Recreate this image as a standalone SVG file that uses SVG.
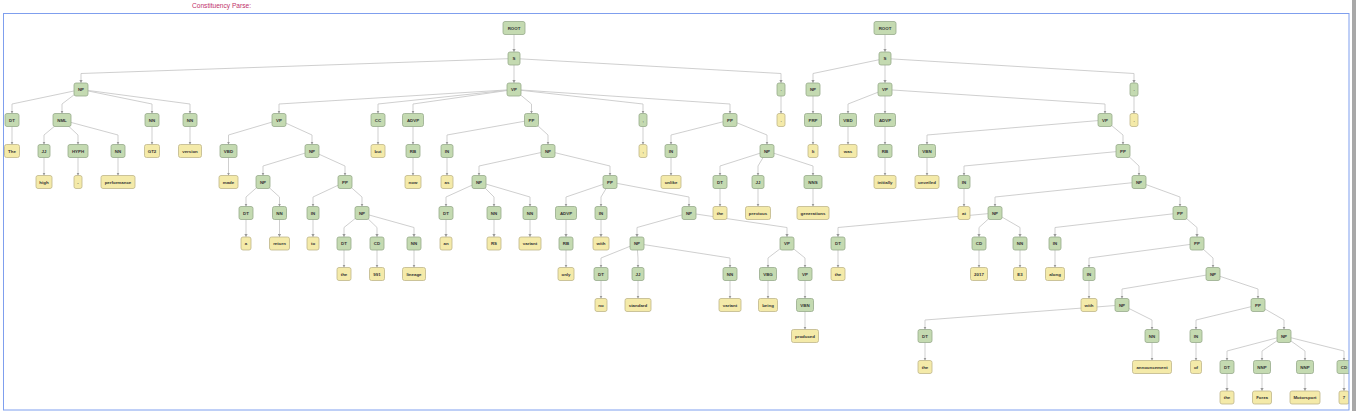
<svg xmlns="http://www.w3.org/2000/svg" width="1356" height="411" viewBox="0 0 1356 411">
<style>
.g rect{fill:#c4dab1;stroke:#97ab8b;stroke-width:0.8}
.y rect{fill:#f4eaa9;stroke:#bfb68a;stroke-width:0.8}
text{font-family:"Liberation Sans",Arial,sans-serif;font-weight:bold;font-size:4.4px;fill:#333;text-anchor:middle;dominant-baseline:central}
#edges path{fill:none;stroke:#c9c9c9;stroke-width:0.9;marker-end:url(#arr)}
.title{font-size:6.6px;font-weight:normal;fill:#c0306a;text-anchor:start;dominant-baseline:auto}
</style>
<defs>
<marker id="arr" markerWidth="4" markerHeight="4" refX="3" refY="2" orient="auto" markerUnits="userSpaceOnUse"><path d="M0,0.4L3,2L0,3.6z" fill="#999"/></marker>
<clipPath id="frameclip"><rect x="3.5" y="13.5" width="1345.5" height="396.5"/></clipPath>
</defs>
<rect width="1356" height="411" fill="#fff"/>
<text class="title" x="192" y="8">Constituency Parse:</text>
<g clip-path="url(#frameclip)">
<g id="edges">
<path d="M514,28V52"/>
<path d="M514,58.5L81,73.5V83"/>
<path d="M514,58.5V83"/>
<path d="M514,58.5L781,73.5V83"/>
<path d="M81,89.5L12,104V113.5"/>
<path d="M81,89.5L62,104V113.5"/>
<path d="M81,89.5L152,104V113.5"/>
<path d="M81,89.5L190,104V113.5"/>
<path d="M12,120V144.5"/>
<path d="M62,120L44,135V144.5"/>
<path d="M62,120L78,135V144.5"/>
<path d="M62,120L118,135V144.5"/>
<path d="M44,151V175.5"/>
<path d="M78,151V175.5"/>
<path d="M118,151V175.5"/>
<path d="M152,120V144.5"/>
<path d="M190,120V144.5"/>
<path d="M514,89.5L279,104V113.5"/>
<path d="M514,89.5L378,104V113.5"/>
<path d="M514,89.5L413,104V113.5"/>
<path d="M514,89.5L531.5,104V113.5"/>
<path d="M514,89.5L643,104V113.5"/>
<path d="M514,89.5L730,104V113.5"/>
<path d="M279,120L228.5,135V144.5"/>
<path d="M279,120L312,135V144.5"/>
<path d="M228.5,151V175.5"/>
<path d="M312,151L263,166V175.5"/>
<path d="M312,151L345,166V175.5"/>
<path d="M263,182L246,197V206.5"/>
<path d="M263,182L279.5,197V206.5"/>
<path d="M246,213V237"/>
<path d="M279.5,213V237"/>
<path d="M345,182L313,197V206.5"/>
<path d="M345,182L362,197V206.5"/>
<path d="M313,213V237"/>
<path d="M362,213L344,227.5V237"/>
<path d="M362,213L377,227.5V237"/>
<path d="M362,213L414,227.5V237"/>
<path d="M344,243.5V267.5"/>
<path d="M377,243.5V267.5"/>
<path d="M414,243.5V267.5"/>
<path d="M378,120V144.5"/>
<path d="M413,120V144.5"/>
<path d="M413,151V175.5"/>
<path d="M531.5,120L447,135V144.5"/>
<path d="M531.5,120L548,135V144.5"/>
<path d="M447,151V175.5"/>
<path d="M548,151L479,166V175.5"/>
<path d="M548,151L610,166V175.5"/>
<path d="M479,182L446,197V206.5"/>
<path d="M479,182L494,197V206.5"/>
<path d="M479,182L530,197V206.5"/>
<path d="M446,213V237"/>
<path d="M494,213V237"/>
<path d="M530,213V237"/>
<path d="M610,182L566,197V206.5"/>
<path d="M610,182L601,197V206.5"/>
<path d="M610,182L689,197V206.5"/>
<path d="M566,213V237"/>
<path d="M566,243.5V267.5"/>
<path d="M601,213V237"/>
<path d="M689,213L637,227.5V237"/>
<path d="M689,213L787,227.5V237"/>
<path d="M637,243.5L601,258V267.5"/>
<path d="M637,243.5L638,258V267.5"/>
<path d="M637,243.5L730,258V267.5"/>
<path d="M601,274V298.5"/>
<path d="M638,274V298.5"/>
<path d="M730,274V298.5"/>
<path d="M787,243.5L768,258V267.5"/>
<path d="M787,243.5L805,258V267.5"/>
<path d="M768,274V298.5"/>
<path d="M805,274V298.5"/>
<path d="M805,305V329.5"/>
<path d="M643,120V144.5"/>
<path d="M730,120L671,135V144.5"/>
<path d="M730,120L767,135V144.5"/>
<path d="M671,151V175.5"/>
<path d="M767,151L720,166V175.5"/>
<path d="M767,151L758,166V175.5"/>
<path d="M767,151L813,166V175.5"/>
<path d="M720,182V206.5"/>
<path d="M758,182V206.5"/>
<path d="M813,182V206.5"/>
<path d="M781,89.5V113.5"/>
<path d="M885,28V52"/>
<path d="M885,58.5L813,73.5V83"/>
<path d="M885,58.5V83"/>
<path d="M885,58.5L1134,73.5V83"/>
<path d="M813,89.5V113.5"/>
<path d="M813,120V144.5"/>
<path d="M885,89.5L848,104V113.5"/>
<path d="M885,89.5V113.5"/>
<path d="M885,89.5L1105,104V113.5"/>
<path d="M848,120V144.5"/>
<path d="M885,120V144.5"/>
<path d="M885,151V175.5"/>
<path d="M1105,120L927,135V144.5"/>
<path d="M1105,120L1123,135V144.5"/>
<path d="M927,151V175.5"/>
<path d="M1123,151L964,166V175.5"/>
<path d="M1123,151L1139,166V175.5"/>
<path d="M964,182V206.5"/>
<path d="M1139,182L995,197V206.5"/>
<path d="M1139,182L1180,197V206.5"/>
<path d="M995,213L838,227.5V237"/>
<path d="M995,213L979,227.5V237"/>
<path d="M995,213L1020,227.5V237"/>
<path d="M838,243.5V267.5"/>
<path d="M979,243.5V267.5"/>
<path d="M1020,243.5V267.5"/>
<path d="M1180,213L1055,227.5V237"/>
<path d="M1180,213L1197,227.5V237"/>
<path d="M1055,243.5V267.5"/>
<path d="M1197,243.5L1089,258V267.5"/>
<path d="M1197,243.5L1213,258V267.5"/>
<path d="M1089,274V298.5"/>
<path d="M1213,274L1122,289V298.5"/>
<path d="M1213,274L1258,289V298.5"/>
<path d="M1122,305L925,320V329.5"/>
<path d="M1122,305L1152,320V329.5"/>
<path d="M925,336V360.5"/>
<path d="M1152,336V360.5"/>
<path d="M1258,305L1196,320V329.5"/>
<path d="M1258,305L1284,320V329.5"/>
<path d="M1196,336V360.5"/>
<path d="M1284,336L1227,351V360.5"/>
<path d="M1284,336L1262,351V360.5"/>
<path d="M1284,336L1305,351V360.5"/>
<path d="M1284,336L1344,351V360.5"/>
<path d="M1227,367V391"/>
<path d="M1262,367V391"/>
<path d="M1305,367V391"/>
<path d="M1344,367V391"/>
<path d="M1134,89.5V113.5"/>
</g>
<g id="n1" class="g"><rect x="503" y="21.5" width="22" height="13" rx="2"/><text x="514" y="28">ROOT</text></g>
<g id="n2" class="g"><rect x="508" y="52" width="12" height="13" rx="2"/><text x="514" y="58.5">S</text></g>
<g id="n3" class="g"><rect x="74" y="83" width="14" height="13" rx="2"/><text x="81" y="89.5">NP</text></g>
<g id="n4" class="g"><rect x="5" y="113.5" width="14" height="13" rx="2"/><text x="12" y="120">DT</text></g>
<g id="n5" class="y"><rect x="4.5" y="144.5" width="15" height="13" rx="2"/><text x="12" y="151">The</text></g>
<g id="n6" class="g"><rect x="53" y="113.5" width="18" height="13" rx="2"/><text x="62" y="120">NML</text></g>
<g id="n7" class="g"><rect x="38" y="144.5" width="12" height="13" rx="2"/><text x="44" y="151">JJ</text></g>
<g id="n8" class="y"><rect x="36" y="175.5" width="16" height="13" rx="2"/><text x="44" y="182">high</text></g>
<g id="n9" class="g"><rect x="68" y="144.5" width="20" height="13" rx="2"/><text x="78" y="151">HYPH</text></g>
<g id="n10" class="y"><rect x="74" y="175.5" width="8" height="13" rx="2"/><text x="78" y="182">-</text></g>
<g id="n11" class="g"><rect x="111" y="144.5" width="14" height="13" rx="2"/><text x="118" y="151">NN</text></g>
<g id="n12" class="y"><rect x="101" y="175.5" width="34" height="13" rx="2"/><text x="118" y="182">performance</text></g>
<g id="n13" class="g"><rect x="145" y="113.5" width="14" height="13" rx="2"/><text x="152" y="120">NN</text></g>
<g id="n14" class="y"><rect x="144.5" y="144.5" width="15" height="13" rx="2"/><text x="152" y="151">GT2</text></g>
<g id="n15" class="g"><rect x="183" y="113.5" width="14" height="13" rx="2"/><text x="190" y="120">NN</text></g>
<g id="n16" class="y"><rect x="178.5" y="144.5" width="23" height="13" rx="2"/><text x="190" y="151">version</text></g>
<g id="n17" class="g"><rect x="507" y="83" width="14" height="13" rx="2"/><text x="514" y="89.5">VP</text></g>
<g id="n18" class="g"><rect x="272" y="113.5" width="14" height="13" rx="2"/><text x="279" y="120">VP</text></g>
<g id="n19" class="g"><rect x="220" y="144.5" width="17" height="13" rx="2"/><text x="228.5" y="151">VBD</text></g>
<g id="n20" class="y"><rect x="219" y="175.5" width="19" height="13" rx="2"/><text x="228.5" y="182">made</text></g>
<g id="n21" class="g"><rect x="305" y="144.5" width="14" height="13" rx="2"/><text x="312" y="151">NP</text></g>
<g id="n22" class="g"><rect x="256" y="175.5" width="14" height="13" rx="2"/><text x="263" y="182">NP</text></g>
<g id="n23" class="g"><rect x="239" y="206.5" width="14" height="13" rx="2"/><text x="246" y="213">DT</text></g>
<g id="n24" class="y"><rect x="241" y="237" width="10" height="13" rx="2"/><text x="246" y="243.5">a</text></g>
<g id="n25" class="g"><rect x="272.5" y="206.5" width="14" height="13" rx="2"/><text x="279.5" y="213">NN</text></g>
<g id="n26" class="y"><rect x="269.5" y="237" width="20" height="13" rx="2"/><text x="279.5" y="243.5">return</text></g>
<g id="n27" class="g"><rect x="338" y="175.5" width="14" height="13" rx="2"/><text x="345" y="182">PP</text></g>
<g id="n28" class="g"><rect x="307" y="206.5" width="12" height="13" rx="2"/><text x="313" y="213">IN</text></g>
<g id="n29" class="y"><rect x="307" y="237" width="12" height="13" rx="2"/><text x="313" y="243.5">to</text></g>
<g id="n30" class="g"><rect x="355" y="206.5" width="14" height="13" rx="2"/><text x="362" y="213">NP</text></g>
<g id="n31" class="g"><rect x="337" y="237" width="14" height="13" rx="2"/><text x="344" y="243.5">DT</text></g>
<g id="n32" class="y"><rect x="337" y="267.5" width="14" height="13" rx="2"/><text x="344" y="274">the</text></g>
<g id="n33" class="g"><rect x="370" y="237" width="14" height="13" rx="2"/><text x="377" y="243.5">CD</text></g>
<g id="n34" class="y"><rect x="369.5" y="267.5" width="15" height="13" rx="2"/><text x="377" y="274">991</text></g>
<g id="n35" class="g"><rect x="407" y="237" width="14" height="13" rx="2"/><text x="414" y="243.5">NN</text></g>
<g id="n36" class="y"><rect x="402.5" y="267.5" width="23" height="13" rx="2"/><text x="414" y="274">lineage</text></g>
<g id="n37" class="g"><rect x="371" y="113.5" width="14" height="13" rx="2"/><text x="378" y="120">CC</text></g>
<g id="n38" class="y"><rect x="371" y="144.5" width="14" height="13" rx="2"/><text x="378" y="151">but</text></g>
<g id="n39" class="g"><rect x="402.5" y="113.5" width="21" height="13" rx="2"/><text x="413" y="120">ADVP</text></g>
<g id="n40" class="g"><rect x="406" y="144.5" width="14" height="13" rx="2"/><text x="413" y="151">RB</text></g>
<g id="n41" class="y"><rect x="405" y="175.5" width="16" height="13" rx="2"/><text x="413" y="182">now</text></g>
<g id="n42" class="g"><rect x="524.5" y="113.5" width="14" height="13" rx="2"/><text x="531.5" y="120">PP</text></g>
<g id="n43" class="g"><rect x="441" y="144.5" width="12" height="13" rx="2"/><text x="447" y="151">IN</text></g>
<g id="n44" class="y"><rect x="441" y="175.5" width="12" height="13" rx="2"/><text x="447" y="182">as</text></g>
<g id="n45" class="g"><rect x="541" y="144.5" width="14" height="13" rx="2"/><text x="548" y="151">NP</text></g>
<g id="n46" class="g"><rect x="472" y="175.5" width="14" height="13" rx="2"/><text x="479" y="182">NP</text></g>
<g id="n47" class="g"><rect x="439" y="206.5" width="14" height="13" rx="2"/><text x="446" y="213">DT</text></g>
<g id="n48" class="y"><rect x="440" y="237" width="12" height="13" rx="2"/><text x="446" y="243.5">an</text></g>
<g id="n49" class="g"><rect x="487" y="206.5" width="14" height="13" rx="2"/><text x="494" y="213">NN</text></g>
<g id="n50" class="y"><rect x="487" y="237" width="14" height="13" rx="2"/><text x="494" y="243.5">RS</text></g>
<g id="n51" class="g"><rect x="523" y="206.5" width="14" height="13" rx="2"/><text x="530" y="213">NN</text></g>
<g id="n52" class="y"><rect x="519" y="237" width="22" height="13" rx="2"/><text x="530" y="243.5">variant</text></g>
<g id="n53" class="g"><rect x="603" y="175.5" width="14" height="13" rx="2"/><text x="610" y="182">PP</text></g>
<g id="n54" class="g"><rect x="555.5" y="206.5" width="21" height="13" rx="2"/><text x="566" y="213">ADVP</text></g>
<g id="n55" class="g"><rect x="559" y="237" width="14" height="13" rx="2"/><text x="566" y="243.5">RB</text></g>
<g id="n56" class="y"><rect x="558" y="267.5" width="16" height="13" rx="2"/><text x="566" y="274">only</text></g>
<g id="n57" class="g"><rect x="595" y="206.5" width="12" height="13" rx="2"/><text x="601" y="213">IN</text></g>
<g id="n58" class="y"><rect x="593" y="237" width="16" height="13" rx="2"/><text x="601" y="243.5">with</text></g>
<g id="n59" class="g"><rect x="682" y="206.5" width="14" height="13" rx="2"/><text x="689" y="213">NP</text></g>
<g id="n60" class="g"><rect x="630" y="237" width="14" height="13" rx="2"/><text x="637" y="243.5">NP</text></g>
<g id="n61" class="g"><rect x="594" y="267.5" width="14" height="13" rx="2"/><text x="601" y="274">DT</text></g>
<g id="n62" class="y"><rect x="595" y="298.5" width="12" height="13" rx="2"/><text x="601" y="305">no</text></g>
<g id="n63" class="g"><rect x="632" y="267.5" width="12" height="13" rx="2"/><text x="638" y="274">JJ</text></g>
<g id="n64" class="y"><rect x="625" y="298.5" width="26" height="13" rx="2"/><text x="638" y="305">standard</text></g>
<g id="n65" class="g"><rect x="723" y="267.5" width="14" height="13" rx="2"/><text x="730" y="274">NN</text></g>
<g id="n66" class="y"><rect x="719" y="298.5" width="22" height="13" rx="2"/><text x="730" y="305">variant</text></g>
<g id="n67" class="g"><rect x="780" y="237" width="14" height="13" rx="2"/><text x="787" y="243.5">VP</text></g>
<g id="n68" class="g"><rect x="759.5" y="267.5" width="17" height="13" rx="2"/><text x="768" y="274">VBG</text></g>
<g id="n69" class="y"><rect x="758.5" y="298.5" width="19" height="13" rx="2"/><text x="768" y="305">being</text></g>
<g id="n70" class="g"><rect x="798" y="267.5" width="14" height="13" rx="2"/><text x="805" y="274">VP</text></g>
<g id="n71" class="g"><rect x="796.5" y="298.5" width="17" height="13" rx="2"/><text x="805" y="305">VBN</text></g>
<g id="n72" class="y"><rect x="791.5" y="329.5" width="27" height="13" rx="2"/><text x="805" y="336">produced</text></g>
<g id="n73" class="g"><rect x="639" y="113.5" width="8" height="13" rx="2"/><text x="643" y="120">,</text></g>
<g id="n74" class="y"><rect x="639" y="144.5" width="8" height="13" rx="2"/><text x="643" y="151">,</text></g>
<g id="n75" class="g"><rect x="723" y="113.5" width="14" height="13" rx="2"/><text x="730" y="120">PP</text></g>
<g id="n76" class="g"><rect x="665" y="144.5" width="12" height="13" rx="2"/><text x="671" y="151">IN</text></g>
<g id="n77" class="y"><rect x="661" y="175.5" width="20" height="13" rx="2"/><text x="671" y="182">unlike</text></g>
<g id="n78" class="g"><rect x="760" y="144.5" width="14" height="13" rx="2"/><text x="767" y="151">NP</text></g>
<g id="n79" class="g"><rect x="713" y="175.5" width="14" height="13" rx="2"/><text x="720" y="182">DT</text></g>
<g id="n80" class="y"><rect x="713" y="206.5" width="14" height="13" rx="2"/><text x="720" y="213">the</text></g>
<g id="n81" class="g"><rect x="752" y="175.5" width="12" height="13" rx="2"/><text x="758" y="182">JJ</text></g>
<g id="n82" class="y"><rect x="745.5" y="206.5" width="25" height="13" rx="2"/><text x="758" y="213">previous</text></g>
<g id="n83" class="g"><rect x="804" y="175.5" width="18" height="13" rx="2"/><text x="813" y="182">NNS</text></g>
<g id="n84" class="y"><rect x="797" y="206.5" width="32" height="13" rx="2"/><text x="813" y="213">generations</text></g>
<g id="n85" class="g"><rect x="777" y="83" width="8" height="13" rx="2"/><text x="781" y="89.5">.</text></g>
<g id="n86" class="y"><rect x="777" y="113.5" width="8" height="13" rx="2"/><text x="781" y="120">.</text></g>
<g id="m1" class="g"><rect x="874" y="21.5" width="22" height="13" rx="2"/><text x="885" y="28">ROOT</text></g>
<g id="m2" class="g"><rect x="879" y="52" width="12" height="13" rx="2"/><text x="885" y="58.5">S</text></g>
<g id="m3" class="g"><rect x="806" y="83" width="14" height="13" rx="2"/><text x="813" y="89.5">NP</text></g>
<g id="m4" class="g"><rect x="804.5" y="113.5" width="17" height="13" rx="2"/><text x="813" y="120">PRP</text></g>
<g id="m5" class="y"><rect x="808" y="144.5" width="10" height="13" rx="2"/><text x="813" y="151">It</text></g>
<g id="m6" class="g"><rect x="878" y="83" width="14" height="13" rx="2"/><text x="885" y="89.5">VP</text></g>
<g id="m7" class="g"><rect x="839.5" y="113.5" width="17" height="13" rx="2"/><text x="848" y="120">VBD</text></g>
<g id="m8" class="y"><rect x="839" y="144.5" width="18" height="13" rx="2"/><text x="848" y="151">was</text></g>
<g id="m9" class="g"><rect x="874.5" y="113.5" width="21" height="13" rx="2"/><text x="885" y="120">ADVP</text></g>
<g id="m10" class="g"><rect x="878" y="144.5" width="14" height="13" rx="2"/><text x="885" y="151">RB</text></g>
<g id="m11" class="y"><rect x="874" y="175.5" width="22" height="13" rx="2"/><text x="885" y="182">initially</text></g>
<g id="m12" class="g"><rect x="1098" y="113.5" width="14" height="13" rx="2"/><text x="1105" y="120">VP</text></g>
<g id="m13" class="g"><rect x="918.5" y="144.5" width="17" height="13" rx="2"/><text x="927" y="151">VBN</text></g>
<g id="m14" class="y"><rect x="915" y="175.5" width="24" height="13" rx="2"/><text x="927" y="182">unveiled</text></g>
<g id="m15" class="g"><rect x="1116" y="144.5" width="14" height="13" rx="2"/><text x="1123" y="151">PP</text></g>
<g id="m16" class="g"><rect x="958" y="175.5" width="12" height="13" rx="2"/><text x="964" y="182">IN</text></g>
<g id="m17" class="y"><rect x="958" y="206.5" width="12" height="13" rx="2"/><text x="964" y="213">at</text></g>
<g id="m18" class="g"><rect x="1132" y="175.5" width="14" height="13" rx="2"/><text x="1139" y="182">NP</text></g>
<g id="m19" class="g"><rect x="988" y="206.5" width="14" height="13" rx="2"/><text x="995" y="213">NP</text></g>
<g id="m20" class="g"><rect x="831" y="237" width="14" height="13" rx="2"/><text x="838" y="243.5">DT</text></g>
<g id="m21" class="y"><rect x="831" y="267.5" width="14" height="13" rx="2"/><text x="838" y="274">the</text></g>
<g id="m22" class="g"><rect x="972" y="237" width="14" height="13" rx="2"/><text x="979" y="243.5">CD</text></g>
<g id="m23" class="y"><rect x="970.5" y="267.5" width="17" height="13" rx="2"/><text x="979" y="274">2017</text></g>
<g id="m24" class="g"><rect x="1013" y="237" width="14" height="13" rx="2"/><text x="1020" y="243.5">NN</text></g>
<g id="m25" class="y"><rect x="1013.5" y="267.5" width="13" height="13" rx="2"/><text x="1020" y="274">E3</text></g>
<g id="m26" class="g"><rect x="1173" y="206.5" width="14" height="13" rx="2"/><text x="1180" y="213">PP</text></g>
<g id="m27" class="g"><rect x="1049" y="237" width="12" height="13" rx="2"/><text x="1055" y="243.5">IN</text></g>
<g id="m28" class="y"><rect x="1045.5" y="267.5" width="19" height="13" rx="2"/><text x="1055" y="274">along</text></g>
<g id="m29" class="g"><rect x="1190" y="237" width="14" height="13" rx="2"/><text x="1197" y="243.5">PP</text></g>
<g id="m30" class="g"><rect x="1083" y="267.5" width="12" height="13" rx="2"/><text x="1089" y="274">IN</text></g>
<g id="m31" class="y"><rect x="1081" y="298.5" width="16" height="13" rx="2"/><text x="1089" y="305">with</text></g>
<g id="m32" class="g"><rect x="1206" y="267.5" width="14" height="13" rx="2"/><text x="1213" y="274">NP</text></g>
<g id="m33" class="g"><rect x="1115" y="298.5" width="14" height="13" rx="2"/><text x="1122" y="305">NP</text></g>
<g id="m34" class="g"><rect x="918" y="329.5" width="14" height="13" rx="2"/><text x="925" y="336">DT</text></g>
<g id="m35" class="y"><rect x="918" y="360.5" width="14" height="13" rx="2"/><text x="925" y="367">the</text></g>
<g id="m36" class="g"><rect x="1145" y="329.5" width="14" height="13" rx="2"/><text x="1152" y="336">NN</text></g>
<g id="m37" class="y"><rect x="1132.5" y="360.5" width="39" height="13" rx="2"/><text x="1152" y="367">announcement</text></g>
<g id="m38" class="g"><rect x="1251" y="298.5" width="14" height="13" rx="2"/><text x="1258" y="305">PP</text></g>
<g id="m39" class="g"><rect x="1190" y="329.5" width="12" height="13" rx="2"/><text x="1196" y="336">IN</text></g>
<g id="m40" class="y"><rect x="1190.5" y="360.5" width="11" height="13" rx="2"/><text x="1196" y="367">of</text></g>
<g id="m41" class="g"><rect x="1277" y="329.5" width="14" height="13" rx="2"/><text x="1284" y="336">NP</text></g>
<g id="m42" class="g"><rect x="1220" y="360.5" width="14" height="13" rx="2"/><text x="1227" y="367">DT</text></g>
<g id="m43" class="y"><rect x="1220" y="391" width="14" height="13" rx="2"/><text x="1227" y="397.5">the</text></g>
<g id="m44" class="g"><rect x="1253.5" y="360.5" width="17" height="13" rx="2"/><text x="1262" y="367">NNP</text></g>
<g id="m45" class="y"><rect x="1252.5" y="391" width="19" height="13" rx="2"/><text x="1262" y="397.5">Forza</text></g>
<g id="m46" class="g"><rect x="1296.5" y="360.5" width="17" height="13" rx="2"/><text x="1305" y="367">NNP</text></g>
<g id="m47" class="y"><rect x="1290" y="391" width="30" height="13" rx="2"/><text x="1305" y="397.5">Motorsport</text></g>
<g id="m48" class="g"><rect x="1337" y="360.5" width="14" height="13" rx="2"/><text x="1344" y="367">CD</text></g>
<g id="m49" class="y"><rect x="1339" y="391" width="10" height="13" rx="2"/><text x="1344" y="397.5">7</text></g>
<g id="m50" class="g"><rect x="1130" y="83" width="8" height="13" rx="2"/><text x="1134" y="89.5">.</text></g>
<g id="m51" class="y"><rect x="1130" y="113.5" width="8" height="13" rx="2"/><text x="1134" y="120">.</text></g>
</g>
<rect x="3.5" y="13.5" width="1345.5" height="396.5" fill="none" stroke="#7f9fee" stroke-width="1"/>
<rect x="1352" y="0" width="4" height="411" fill="#a8a8a8"/>
</svg>
